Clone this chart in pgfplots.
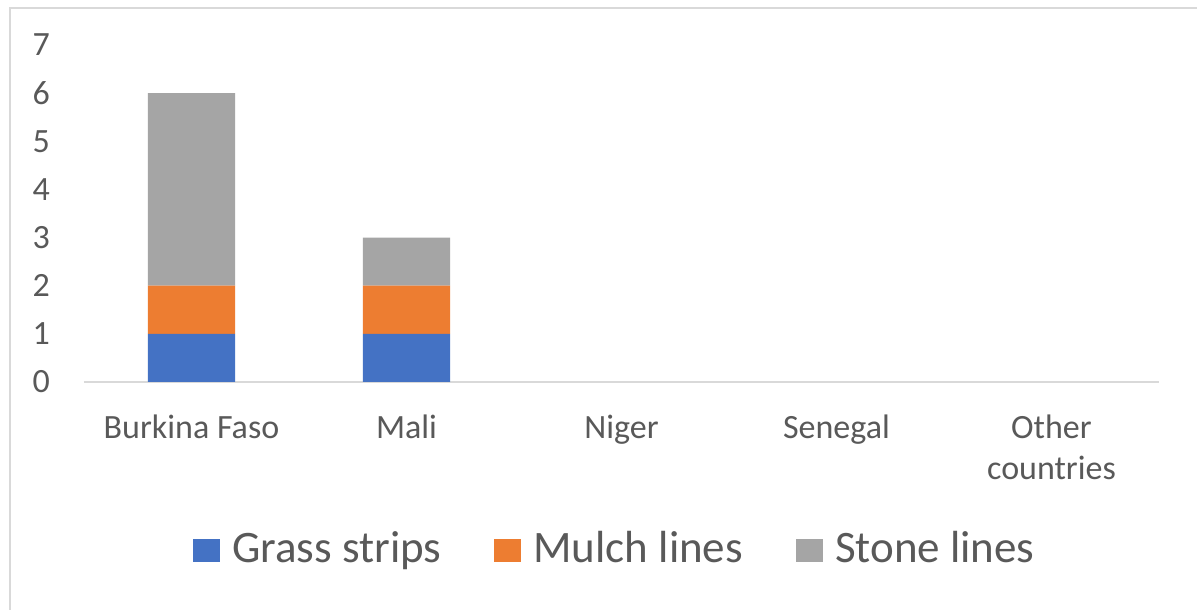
\documentclass[border=0pt]{standalone}
\usepackage{fontspec}
\setmainfont{Carlito}
\usepackage{pgfplots}
\pgfplotsset{compat=1.18}
\definecolor{cblue}{HTML}{4472C4}
\definecolor{corange}{HTML}{ED7D31}
\definecolor{cgray}{HTML}{A5A5A5}
\definecolor{ctext}{HTML}{595959}
\definecolor{cline}{HTML}{D9D9D9}
\begin{document}
\begin{tikzpicture}
\fill[white] (0pt,0pt) rectangle (1197pt,610pt);
\draw[cline, line width=2.5pt] (10pt,-5pt) -- (10pt,602pt) -- (1205pt,602pt);
\begin{axis}[
  at={(84pt,228pt)}, anchor=south west,
  scale only axis, width=1075pt, height=337pt,
  xmin=-0.5, xmax=4.5, ymin=0, ymax=7,
  enlargelimits=false,
  ybar stacked, bar width=0.405,
  axis lines*=left,
  y axis line style={draw=none},
  x axis line style={cline, line width=2.25pt},
  major tick length=0pt,
  xtick={0,1,2,3,4},
  xticklabels={Burkina Faso, Mali, Niger, Senegal, {Other\\countries}},
  ytick={0,1,2,3,4,5,6,7},
  /pgf/number format/assume math mode=true,
  tick label style={font=\fontsize{34}{41}\selectfont, text=ctext},
  yticklabel style={anchor=east, inner sep=0pt, xshift=-34pt},
  xticklabel style={anchor=north, inner sep=0pt, yshift=-33pt, align=center},
  legend image code/.code={\fill[#1] (0pt,-15pt) rectangle (27pt,8pt);},
  legend style={at={(0.1014,-0.491)}, anchor=west, draw=none, inner sep=0pt,
    legend columns=3, font=\fontsize{45}{54}\selectfont, text=ctext,
    nodes={inner sep=0pt},
    /tikz/every odd column/.append style={column sep=12pt},
    /tikz/every even column/.append style={column sep=53pt}},
]
\addplot[fill=cblue, draw=none] coordinates {(0,1) (1,1) (2,0) (3,0) (4,0)};
\addplot[fill=corange, draw=none] coordinates {(0,1) (1,1) (2,0) (3,0) (4,0)};
\addplot[fill=cgray, draw=none] coordinates {(0,4) (1,1) (2,0) (3,0) (4,0)};
\legend{Grass strips, Mulch lines, Stone lines}
\end{axis}
\pgfresetboundingbox
\useasboundingbox (0pt,0pt) rectangle (1197pt,610pt);
\end{tikzpicture}
\end{document}
